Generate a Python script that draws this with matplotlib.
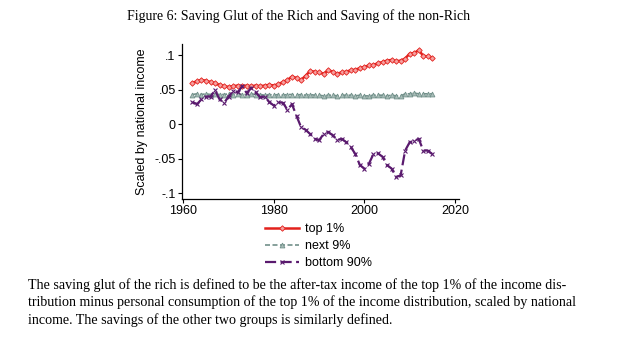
import matplotlib
matplotlib.use("Agg")
import matplotlib.pyplot as plt

# annual values
years = list(range(1962, 2016))

top1 = [0.060, 0.062, 0.064, 0.063, 0.061, 0.059, 0.057, 0.055, 0.054, 0.055,
        0.056, 0.055, 0.056, 0.055, 0.056, 0.055, 0.056, 0.057, 0.056, 0.058,
        0.061, 0.064, 0.069, 0.067, 0.064, 0.070, 0.077, 0.076, 0.075, 0.073,
        0.078, 0.076, 0.073, 0.075, 0.076, 0.078, 0.079, 0.081, 0.083, 0.085,
        0.086, 0.088, 0.090, 0.092, 0.093, 0.091, 0.092, 0.095, 0.102, 0.103,
        0.107, 0.099, 0.098, 0.096]

next9 = [0.043, 0.044, 0.043, 0.044, 0.043, 0.044, 0.043, 0.043, 0.044, 0.043,
         0.044, 0.043, 0.043, 0.044, 0.043, 0.043, 0.042, 0.043, 0.042, 0.043,
         0.042, 0.043, 0.043, 0.042, 0.043, 0.042, 0.043, 0.042, 0.042, 0.041,
         0.042, 0.042, 0.041, 0.042, 0.042, 0.042, 0.041, 0.042, 0.041, 0.041,
         0.042, 0.042, 0.042, 0.041, 0.042, 0.041, 0.041, 0.044, 0.044, 0.045,
         0.044, 0.044, 0.044, 0.044]

bottom90 = [0.032, 0.029, 0.036, 0.040, 0.040, 0.049, 0.036, 0.031, 0.040, 0.048,
            0.046, 0.055, 0.045, 0.053, 0.046, 0.039, 0.040, 0.032, 0.027, 0.032,
            0.031, 0.021, 0.029, 0.012, -0.004, -0.008, -0.014, -0.021, -0.023, -0.014,
            -0.011, -0.016, -0.023, -0.021, -0.026, -0.033, -0.043, -0.059, -0.064, -0.057,
            -0.043, -0.042, -0.047, -0.059, -0.064, -0.076, -0.074, -0.038, -0.026, -0.024,
            -0.021, -0.038, -0.038, -0.043]

yticks = [0.1, 0.05, 0, -0.05, -0.1]
ytick_labels = [".1", ".05", "0", "-.05", "-.1"]
xticks = [1960, 1980, 2000, 2020]

plt.rcParams["font.family"] = ["Liberation Sans", "DejaVu Sans"]

W, H = 619, 352
fig = plt.figure(figsize=(W / 100, H / 100), dpi=100)
fig.patch.set_facecolor("white")

ax = fig.add_axes([182 / W, 1 - 199 / H, (459 - 182) / W, (199 - 44) / H])

red = "#e3211c"
grey = "#72908a"
purple = "#5a1a6e"

ax.plot(years, top1, color=red, lw=1.8, marker="D", ms=2.8, mfc="#f6a0a0",
        mec=red, mew=0.6, label="top 1%")
ax.plot(years, next9, color=grey, lw=1.2, ls=(0, (3, 1.5)), marker="^", ms=3.5,
        mfc="#a8bdb8", mec=grey, mew=0.6, label="next 9%")
ax.plot(years, bottom90, color=purple, lw=1.6, ls=(0, (5, 2)), marker="x", ms=2.5,
        mew=0.8, label="bottom 90%")

ax.set_xlim(1959.7, 2020.9)
ax.set_ylim(-0.108, 0.116)
ax.set_yticks(yticks)
ax.set_yticklabels(ytick_labels)
ax.set_xticks(xticks)
for s in ["top", "right"]:
    ax.spines[s].set_visible(False)
for s in ["left", "bottom"]:
    ax.spines[s].set_linewidth(0.9)
ax.tick_params(axis="both", labelsize=9, length=3, width=0.8, pad=1.5)
ax.set_ylabel("Scaled by national income", fontsize=9, labelpad=5)

ax.legend(loc="upper left", bbox_to_anchor=(265 / W, 1 - 223 / H),
          bbox_transform=fig.transFigure, frameon=False, fontsize=9,
          handlelength=2.7, handletextpad=0.5, labelspacing=0.4,
          borderpad=0, borderaxespad=0, numpoints=1)

fig.text(299 / W, 1 - 16 / H,
         "Figure 6: Saving Glut of the Rich and Saving of the non-Rich",
         ha="center", va="center", family="Liberation Serif", fontsize=10)

caption = [
    "The saving glut of the rich is defined to be the after-tax income of the top 1% of the income dis-",
    "tribution minus personal consumption of the top 1% of the income distribution, scaled by national",
    "income. The savings of the other two groups is similarly defined.",
]
for i, line in enumerate(caption):
    fig.text(28 / W, 1 - (285 + i * 17.5) / H, line, ha="left", va="center",
             family="Liberation Serif", fontsize=10.05)

fig.savefig("out.png", dpi=100)
